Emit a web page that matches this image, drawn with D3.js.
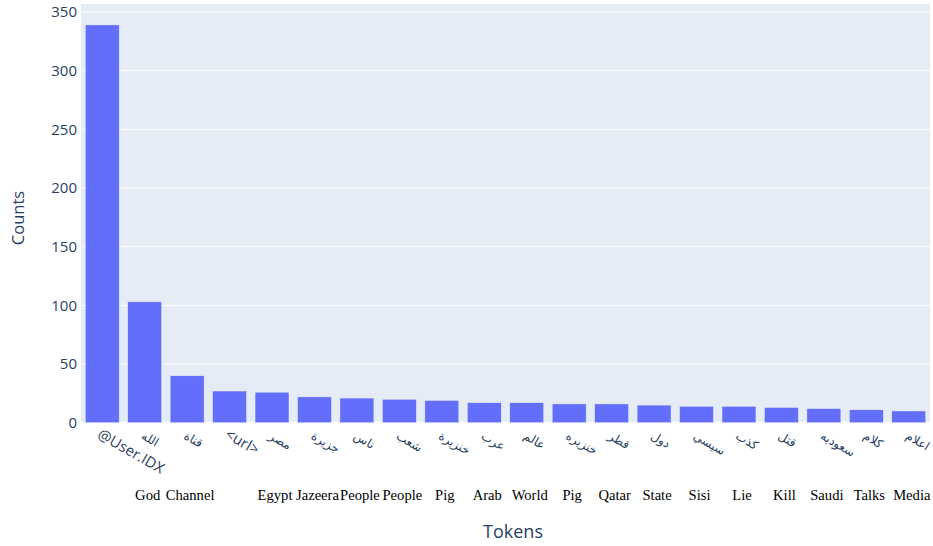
<!DOCTYPE html>
<html>
<head>
<meta charset="utf-8">
<script src="https://cdn.jsdelivr.net/npm/d3@7"></script>
<style>
  html, body { margin: 0; padding: 0; background: #fff; }
  svg { display: block; }
</style>
</head>
<body>
<svg id="chart" width="933" height="546"></svg>
<script>
// ---- data ----
const tokens = ["@User.IDX", "الله", "قناة", "<url>", "مصر", "جزيرة", "ناس", "شعب", "خنزيرة", "عرب",
                "عالم", "خنزيره", "قطر", "دول", "سيسي", "كذب", "قتل", "سعوديه", "كلام", "اعلام"];
const counts = [339, 103, 40, 27, 26, 22, 21, 20, 19, 17, 17, 16, 16, 15, 14, 14, 13, 12, 11, 10];
const translations = ["", "God", "Channel", "", "Egypt", "Jazeera", "People", "People", "Pig", "Arab",
                      "World", "Pig", "Qatar", "State", "Sisi", "Lie", "Kill", "Saudi", "Talks", "Media"];
const yTicks = [0, 50, 100, 150, 200, 250, 300, 350];
const xTitle = "Tokens";
const yTitle = "Counts";

// ---- layout ----
const W = 933, H = 546;
const m = { left: 81, right: 3, top: 4, bottom: 123.3 };
const plotW = W - m.left - m.right;
const plotH = H - m.top - m.bottom;
const txt = "#2a3f5f";
const font = "'Open Sans', sans-serif";
const isArabic = s => /[\u0600-\u06FF]/.test(s);

const svg = d3.select("#chart");

const x = d3.scaleBand()
  .domain(d3.range(tokens.length))
  .range([m.left, m.left + plotW])
  .paddingInner(0.2)
  .paddingOuter(0.1);

const y = d3.scaleLinear()
  .domain([0, d3.max(counts) * 1.0526])
  .range([m.top + plotH, m.top]);

// background
svg.append("rect")
  .attr("x", m.left).attr("y", m.top)
  .attr("width", plotW).attr("height", plotH)
  .attr("fill", "#E5ECF6");

// grid lines
svg.append("g").selectAll("line")
  .data(yTicks)
  .join("line")
  .attr("x1", m.left).attr("x2", m.left + plotW)
  .attr("y1", d => y(d)).attr("y2", d => y(d))
  .attr("stroke", "#fff")
  .attr("stroke-width", d => d === 0 ? 2 : 1);

// bars
svg.append("g").selectAll("rect")
  .data(counts)
  .join("rect")
  .attr("x", (d, i) => x(i))
  .attr("width", x.bandwidth())
  .attr("y", d => y(d))
  .attr("height", d => y(0) - y(d))
  .attr("fill", "#636EFA")
  .attr("stroke", "#E5ECF6")
  .attr("stroke-width", 0.5);

// y axis
const yAxis = d3.axisLeft(y).tickValues(yTicks).tickSize(0).tickPadding(4);
const gy = svg.append("g")
  .attr("transform", `translate(${m.left},0)`)
  .call(yAxis);
gy.select(".domain").remove();
gy.selectAll("text")
  .attr("fill", txt)
  .style("font-family", font)
  .style("font-size", "15px");

// x axis (rotated token labels)
const xAxis = d3.axisBottom(x).tickSize(0).tickFormat(i => tokens[i]);
const gx = svg.append("g")
  .attr("transform", `translate(0,${m.top + plotH})`)
  .call(xAxis);
gx.select(".domain").remove();
gx.selectAll(".tick text")
  .attr("fill", txt)
  .style("font-family", i => isArabic(tokens[i]) ? "'DejaVu Sans', 'Noto Sans', sans-serif" : font)
  .style("font-size", i => isArabic(tokens[i]) ? "12px" : "15px")
  .attr("text-anchor", "start")
  .attr("direction", "ltr")
  .attr("y", 0)
  .attr("dy", "0.35em")
  .attr("transform", i => isArabic(tokens[i]) ? "translate(-2,12) rotate(30)" : "translate(-3,10) rotate(30)");

// English translations
svg.append("g").selectAll("text")
  .data(translations)
  .join("text")
  .attr("x", (d, i) => x(i) + x.bandwidth() / 2 + 3)
  .attr("y", 500)
  .attr("text-anchor", "middle")
  .attr("fill", "#000")
  .style("font-family", "'Liberation Serif', 'Times New Roman', serif")
  .style("font-size", "14.6px")
  .text(d => d);

// axis titles
svg.append("text")
  .attr("x", 513).attr("y", 538)
  .attr("text-anchor", "middle")
  .attr("fill", txt)
  .style("font-family", font)
  .style("font-size", "18px")
  .text(xTitle);

svg.append("text")
  .attr("transform", `translate(24,${218}) rotate(-90)`)
  .attr("text-anchor", "middle")
  .attr("fill", txt)
  .style("font-family", font)
  .style("font-size", "16.5px")
  .text(yTitle);
</script>
</body>
</html>
